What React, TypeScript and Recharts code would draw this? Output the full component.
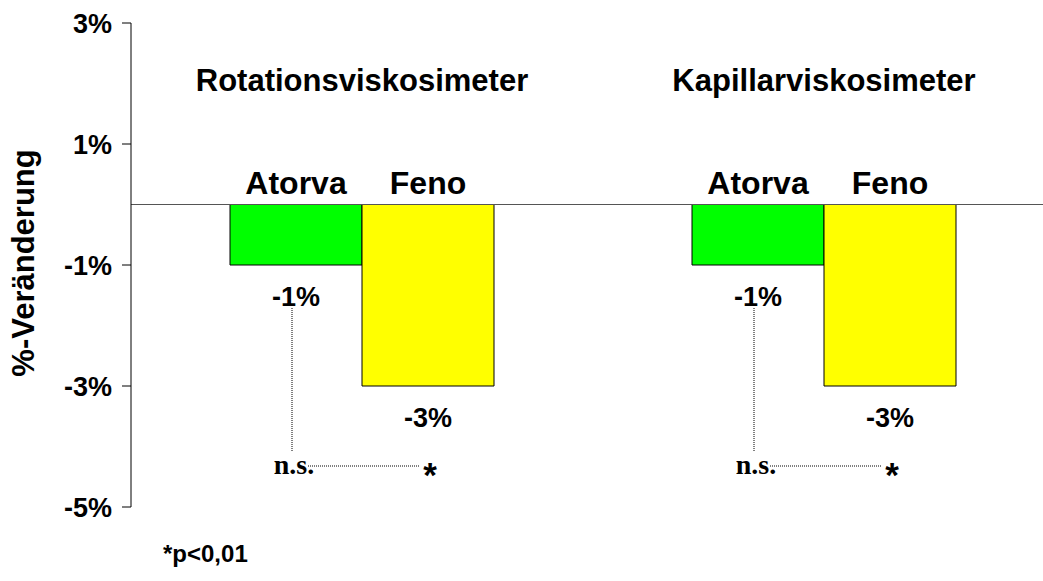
import { BarChart, Bar, XAxis, YAxis, ReferenceLine, LabelList } from 'recharts';

// Two measuring methods, each with Atorva vs Feno change in %
const groups = ['Rotationsviskosimeter', 'Kapillarviskosimeter'];
const atorva = [-1, -1];
const feno = [-3, -3];
const atorvaSig = ['n.s.', 'n.s.'];
const fenoSig = ['*', '*'];
const yTicks = [3, 1, -1, -3, -5];
const footnote = '*p<0,01';

const data = groups.map((g, i) => ({ group: g, atorva: atorva[i], feno: feno[i] }));

const SANS = '"Liberation Sans", Arial, Helvetica, sans-serif';
const SERIF = '"Liberation Serif", "Times New Roman", serif';

// group title, centred on the shared edge of the two bars
function TitleLabel(props: any) {
  const { x, width, value } = props;
  return (
    <text x={x + width} y={91} textAnchor="middle" fontFamily={SANS} fontWeight="bold" fontSize={31} fill="#000">
      {value}
    </text>
  );
}

function YLabel({ viewBox }: any) {
  const cy = viewBox ? viewBox.y + viewBox.height / 2 : 265;
  return (
    <text
      transform={`translate(23, ${cy - 2}) rotate(-90)`}
      textAnchor="middle"
      dominantBaseline="central"
      fontFamily={SANS}
      fontWeight="bold"
      fontSize={31}
      fill="#000"
    >
      %-Veränderung
    </text>
  );
}

function makeLabel(name: string, kind: 'atorva' | 'feno') {
  return (props: any) => {
    const { x, y, width, height, value, index } = props;
    const top = Math.min(y, y + height);
    const bottom = Math.max(y, y + height);
    const cx = x + width / 2;
    const txt = { fontFamily: SANS, fontWeight: 'bold' as const, fill: '#000', textAnchor: 'middle' as const };
    return (
      <g>
        <text x={cx} y={top - 11} fontSize={32} {...txt}>{name}</text>
        <text x={cx} y={bottom + 41} fontSize={27} {...txt}>{`${value}%`}</text>
        {kind === 'atorva' ? (
          <g>
            <line x1={cx - 4} x2={cx - 4} y1={bottom + 43} y2={bottom + 186} stroke="#000" strokeDasharray="1 1" />
            <text x={cx - 2} y={bottom + 209} fontFamily={SERIF} fontWeight="bold" fontSize={28} fill="#000" textAnchor="middle">
              {atorvaSig[index]}
            </text>
          </g>
        ) : (
          <g>
            <line x1={x - width / 2 + 12} x2={cx - 9} y1={bottom + 80} y2={bottom + 80} stroke="#000" strokeDasharray="1 1" />
            <text x={cx + 2} y={bottom + 101} fontSize={35} {...txt}>{fenoSig[index]}</text>
          </g>
        )}
      </g>
    );
  };
}

export default function App() {
  return (
    <div style={{ position: 'absolute', left: 0, top: 0, width: 1043, height: 581, overflow: 'hidden', background: '#fff' }}>
      <BarChart
        width={1060}
        height={581}
        data={data}
        margin={{ top: 23, right: 5, left: 0, bottom: 74 }}
        barGap={0}
      >
        <XAxis dataKey="group" hide />
        <YAxis
          width={131}
          domain={[-5, 3]}
          ticks={yTicks}
          interval={0}
          tickFormatter={(v: number) => `${v}%`}
          tickSize={9}
          tickMargin={10}
          axisLine={{ stroke: '#000' }}
          tickLine={{ stroke: '#000' }}
          tick={{ fill: '#000', fontFamily: SANS, fontWeight: 'bold', fontSize: 27 }}
          label={<YLabel />}
        />
        <ReferenceLine y={0} stroke="#555" strokeWidth={1} />
        <Bar dataKey="atorva" fill="#00ff00" stroke="#000" strokeWidth={1} barSize={132} isAnimationActive={false}>
          <LabelList dataKey="atorva" content={makeLabel('Atorva', 'atorva')} />
          <LabelList dataKey="group" content={TitleLabel} />
        </Bar>
        <Bar dataKey="feno" fill="#ffff00" stroke="#000" strokeWidth={1} barSize={132} isAnimationActive={false}>
          <LabelList dataKey="feno" content={makeLabel('Feno', 'feno')} />
        </Bar>
      </BarChart>
      <div
        style={{
          position: 'absolute',
          left: 163,
          top: 542,
          fontFamily: SANS,
          fontWeight: 'bold',
          fontSize: 24,
          lineHeight: '24px',
          color: '#000',
          whiteSpace: 'nowrap',
        }}
      >
        {footnote}
      </div>
    </div>
  );
}
